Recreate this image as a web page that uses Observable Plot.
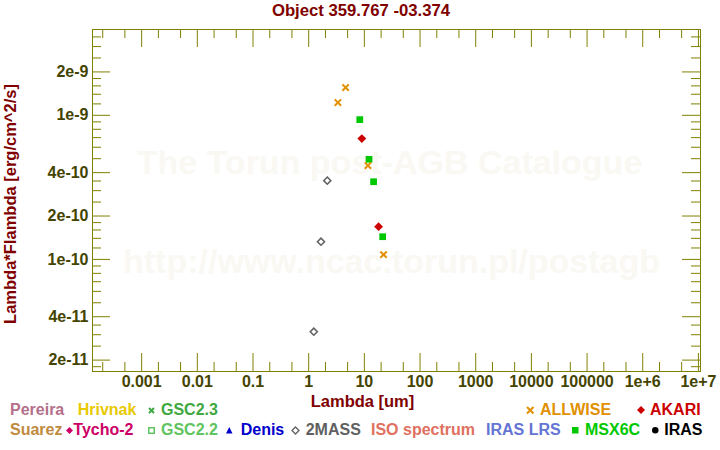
<!DOCTYPE html>
<html><head><meta charset="utf-8">
<script src="https://cdn.jsdelivr.net/npm/d3@7"></script>
<script src="https://cdn.jsdelivr.net/npm/@observablehq/plot@0.6"></script>
<style>
html,body{margin:0;padding:0;background:#fff;}
#wrap{position:relative;width:720px;height:450px;overflow:hidden;font-family:"Liberation Sans",Arial,sans-serif;font-weight:bold;background:#fff;}
#wrap svg{position:absolute;left:0;top:0;}
#wrap svg text{font-weight:bold;}
.lg{position:absolute;white-space:nowrap;font-size:16px;line-height:20px;}
.title{position:absolute;left:0;width:722px;text-align:center;font-size:16.7px;line-height:20px;color:#800000;top:1px;}
.mk{position:absolute;overflow:visible;}
</style></head><body><div id="wrap"></div>
<script>
// ---------- texts ----------
const titleText = "Object 359.767 -03.374";
const xLabel = "Lambda [um]";
const yLabel = "Lambda*Flambda [erg/cm^2/s]";
const watermark1 = "The Torun post-AGB Catalogue";
const watermark2 = "http://www.ncac.torun.pl/postagb";

// ---------- data ----------
const allwiseLambda = [3.35, 4.6, 11.6, 22.1];
const allwiseFlux   = [1.225e-9, 1.557e-9, 4.48e-10, 1.079e-10];
const msxLambda     = [8.28, 12.13, 14.65, 21.34];
const msxFlux       = [9.33e-10, 4.95e-10, 3.46e-10, 1.437e-10];
const akariLambda   = [9.0, 18.0];
const akariFlux     = [6.89e-10, 1.687e-10];
const twomassLambda = [1.235, 1.662, 2.159];
const twomassFlux   = [3.15e-11, 1.327e-10, 3.52e-10];

// ---------- ticks ----------
const xTicks = [1e-3, 1e-2, 0.1, 1, 10, 100, 1000, 1e4, 1e5, 1e6, 1e7];
const xTickLabels = ["0.001","0.01","0.1","1","10","100","1000","10000","100000","1e+6","1e+7"];
const xDecades = [1e-4, 1e-3, 1e-2, 0.1, 1, 10, 100, 1000, 1e4, 1e5, 1e6];
const xMinorFactors = [2, 5];
const yTicks = [2e-11, 4e-11, 1e-10, 2e-10, 4e-10, 1e-9, 2e-9];
const yTickLabels = ["2e-11","4e-11","1e-10","2e-10","4e-10","1e-9","2e-9"];
const yDecades = [1e-11, 1e-10, 1e-9];
const yMinorFactors = [1.2, 1.4, 1.6, 1.8, 2.5, 3, 3.5, 5, 6, 7, 8, 9];

// ---------- legend ----------
const legendNames  = ["Pereira","Hrivnak","GSC2.3","ALLWISE","AKARI","Suarez","Tycho-2","GSC2.2","Denis","2MASS","ISO spectrum","IRAS LRS","MSX6C","IRAS"];
const legendColors = ["#b4708a","#e8c800","#40a840","#e09000","#cc0000","#c08a40","#cc0066","#60c460","#0000cc","#606060","#e07060","#6474d4","#00c800","#000000"];
const legendSymbols= [null,null,"times","times","diamondF",null,"diamondF","squareO","triangle","diamondO",null,null,"squareF","circle"];

// ---------- layout (positions / sizes) ----------
const W = 720, H = 420;
const M = {top: 29, right: 20, bottom: 49, left: 92};
const xDomain = [1.31e-4, 1.09e7];
const yDomain = [1.667e-11, 3.94e-9];
const frameW = W - M.left - M.right, frameH = H - M.top - M.bottom;
const majorLen = 18, minorLen = 9;
const axisColor = "#808000", tickTextColor = "#444400", titleColor = "#800000";
// legend layout: [textLeft, row, markerCenterX, markerSize]
const legendLayout = [
  [10,0,null,0],[77.7,0,null,0],[161,0,151,7],[540,0,530,8.5],[650,0,641,8],
  [10,1,null,0],[73.3,1,69.5,7],[161,1,151,7],[240.7,1,229.5,6.5],[305.7,1,295,7],
  [371,1,null,0],[486,1,null,0],[585,1,575.3,6.5],[664.3,1,655,6.5]
];
const rowTop = [400, 420], rowMid = [410.3, 430];

const rows = (lam, flux) => lam.map((l, i) => ({lambda: l, flux: flux[i]}));
const allwise = rows(allwiseLambda, allwiseFlux);
const msx = rows(msxLambda, msxFlux);
const akari = rows(akariLambda, akariFlux);
const twomass = rows(twomassLambda, twomassFlux);

const inDom = (v, dom) => v >= dom[0] && v <= dom[1];
const xMinor = xDecades.flatMap(d => xMinorFactors.map(f => f * d)).filter(v => inDom(v, xDomain));
const yMinor = yDecades.flatMap(d => yMinorFactors.map(f => f * d)).filter(v => inDom(v, yDomain));
const xLab = new Map(xTicks.map((t, i) => [t, xTickLabels[i]]));
const yLab = new Map(yTicks.map((t, i) => [t, yTickLabels[i]]));

const chart = Plot.plot({
  width: W, height: H,
  marginTop: M.top, marginRight: M.right, marginBottom: M.bottom, marginLeft: M.left,
  style: {background: "transparent", fontFamily: "'Liberation Sans', Arial, sans-serif", overflow: "visible"},
  x: {type: "log", domain: xDomain, axis: null},
  y: {type: "log", domain: yDomain, axis: null},
  marks: [
    Plot.text([watermark1], {frameAnchor: "middle", dx: -7, dy: -37, fontSize: 34, fontWeight: "bold", fill: "#faf8f3"}),
    Plot.text([watermark2], {frameAnchor: "middle", dx: -5, dy: 62, fontSize: 34, fontWeight: "bold", fill: "#faf8f3"}),
    // ticks: bottom / top
    Plot.tickX(xTicks, {x: d => d, stroke: axisColor, insetTop: frameH - majorLen}),
    Plot.tickX(xMinor, {x: d => d, stroke: axisColor, insetTop: frameH - minorLen}),
    Plot.tickX(xTicks, {x: d => d, stroke: axisColor, insetBottom: frameH - majorLen}),
    Plot.tickX(xMinor, {x: d => d, stroke: axisColor, insetBottom: frameH - minorLen}),
    // ticks: left / right
    Plot.tickY(yTicks, {y: d => d, stroke: axisColor, insetRight: frameW - majorLen}),
    Plot.tickY(yMinor, {y: d => d, stroke: axisColor, insetRight: frameW - minorLen}),
    Plot.tickY(yTicks, {y: d => d, stroke: axisColor, insetLeft: frameW - majorLen}),
    Plot.tickY(yMinor, {y: d => d, stroke: axisColor, insetLeft: frameW - minorLen}),
    Plot.frame({stroke: axisColor}),
    Plot.axisX(xTicks, {anchor: "bottom", tickSize: 0, tickPadding: 4, tickFormat: d => xLab.get(d), fill: tickTextColor, fontSize: 16, fontWeight: "bold", label: null}),
    Plot.axisY(yTicks, {anchor: "left", tickSize: 0, tickPadding: 4, tickFormat: d => yLab.get(d), fill: tickTextColor, fontSize: 16, fontWeight: "bold", label: null}),
    Plot.text([xLabel], {frameAnchor: "bottom", dx: -34, dy: 35, fontSize: 16.5, fontWeight: "bold", fill: titleColor}),
    Plot.text([yLabel], {frameAnchor: "left", textAnchor: "middle", rotate: -90, dx: -82, dy: 3.5, fontSize: 16.5, fontWeight: "bold", fill: titleColor}),
    // data
    Plot.dot(twomass, {x: "lambda", y: "flux", symbol: "diamond2", r: 3.2, stroke: "#606060", strokeWidth: 1.5, fill: "none"}),
    Plot.dot(msx, {x: "lambda", y: "flux", symbol: "square", r: 3.8, fill: "#00c800"}),
    Plot.dot(akari, {x: "lambda", y: "flux", symbol: "diamond2", r: 4, fill: "#cc0000"}),
    Plot.dot(allwise, {x: "lambda", y: "flux", symbol: "times", r: 3, stroke: "#e09000", strokeWidth: 2})
  ]
});

const wrap = document.getElementById("wrap");
wrap.appendChild(chart);

const t = document.createElement("div");
t.className = "title"; t.textContent = titleText;
wrap.appendChild(t);

function marker(type, cx, cy, s, color) {
  const ns = "http://www.w3.org/2000/svg";
  const svg = document.createElementNS(ns, "svg");
  const pad = 2, size = s + pad * 2;
  svg.setAttribute("width", size); svg.setAttribute("height", size);
  svg.setAttribute("class", "mk");
  svg.style.left = (cx - size / 2) + "px"; svg.style.top = (cy - size / 2) + "px";
  const c = size / 2, h = s / 2;
  let el;
  if (type === "times") {
    el = document.createElementNS(ns, "path");
    el.setAttribute("d", `M${c-h+1},${c-h+1}L${c+h-1},${c+h-1}M${c-h+1},${c+h-1}L${c+h-1},${c-h+1}`);
    el.setAttribute("stroke", color); el.setAttribute("stroke-width", 2); el.setAttribute("fill", "none");
  } else if (type === "diamondF" || type === "diamondO") {
    el = document.createElementNS(ns, "path");
    el.setAttribute("d", `M${c},${c-h}L${c+h},${c}L${c},${c+h}L${c-h},${c}Z`);
    if (type === "diamondF") el.setAttribute("fill", color);
    else { el.setAttribute("fill", "none"); el.setAttribute("stroke", color); el.setAttribute("stroke-width", 1.3); }
  } else if (type === "squareO" || type === "squareF") {
    el = document.createElementNS(ns, "rect");
    if (type === "squareF") { el.setAttribute("x", c - h); el.setAttribute("y", c - h); el.setAttribute("width", s); el.setAttribute("height", s); el.setAttribute("fill", color); }
    else { el.setAttribute("x", c - h + 0.75); el.setAttribute("y", c - h + 0.75); el.setAttribute("width", s - 1.5); el.setAttribute("height", s - 1.5); el.setAttribute("fill", "none"); el.setAttribute("stroke", color); el.setAttribute("stroke-width", 1.5); }
  } else if (type === "triangle") {
    el = document.createElementNS(ns, "path");
    el.setAttribute("d", `M${c},${c-h}L${c+h},${c+h}L${c-h},${c+h}Z`);
    el.setAttribute("fill", color);
  } else if (type === "circle") {
    el = document.createElementNS(ns, "circle");
    el.setAttribute("cx", c); el.setAttribute("cy", c); el.setAttribute("r", h); el.setAttribute("fill", color);
  }
  svg.appendChild(el);
  return svg;
}

legendNames.forEach((name, i) => {
  const [left, row, mx, ms] = legendLayout[i];
  const d = document.createElement("div");
  d.className = "lg"; d.textContent = name;
  d.style.left = left + "px"; d.style.top = rowTop[row] + "px"; d.style.color = legendColors[i];
  wrap.appendChild(d);
  if (legendSymbols[i]) wrap.appendChild(marker(legendSymbols[i], mx, rowMid[row], ms, legendColors[i]));
});
</script></body></html>
